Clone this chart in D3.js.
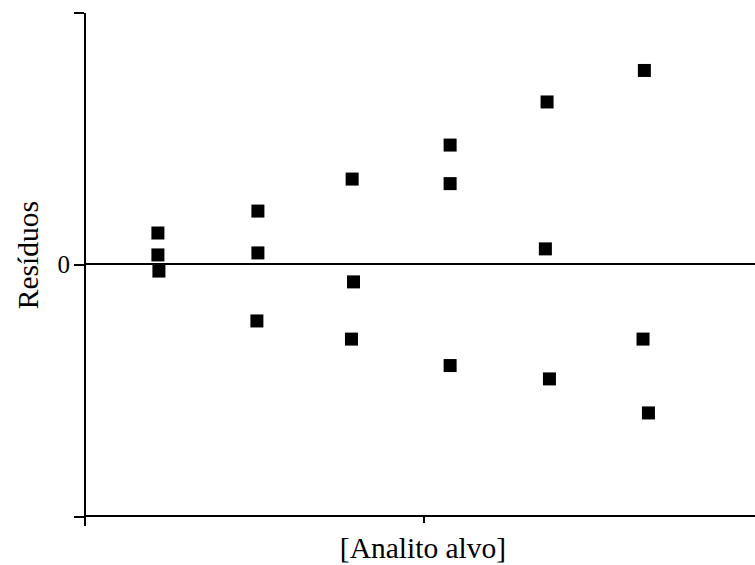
<!DOCTYPE html>
<html>
<head>
<meta charset="utf-8">
<title>Resíduos</title>
<script src="https://d3js.org/d3.v7.min.js"></script>
<style>
  body { margin: 0; background: #fff; }
  .axis path, .axis line { stroke: #000; stroke-width: 2px; shape-rendering: crispEdges; }
  .axis text { font-family: "Liberation Serif", serif; font-size: 25px; fill: #000; }
  .label { font-family: "Liberation Serif", serif; font-size: 29.5px; fill: #000; }
</style>
</head>
<body>
<div id="chart"></div>
<script>
// residuals, three replicates per level
var xVals = [0.218, 0.218, 0.221,
             0.513, 0.513, 0.510,
             0.791, 0.795, 0.789,
             1.080, 1.080, 1.080,
             1.366, 1.361, 1.373,
             1.653, 1.649, 1.665];
var yVals = [0.123, 0.036, -0.028,
             0.210, 0.044, -0.226,
             0.337, -0.071, -0.298,
             0.472, 0.319, -0.403,
             0.643, 0.060, -0.456,
             0.768, -0.298, -0.591];
var yTicks = [-1, 0, 1];
var xTicks = [0, 1];

var width = 755, height = 565;
var svg = d3.select("#chart").append("svg")
  .attr("width", width)
  .attr("height", height);

var x = d3.scaleLinear().domain([0, 2]).range([84, 762]);
var y = d3.scaleLinear().domain([-1, 1]).range([516, 12]);

// zero line
svg.append("line")
  .attr("x1", x(0)).attr("x2", width)
  .attr("y1", y(0)).attr("y2", y(0))
  .style("stroke", "#000").style("stroke-width", 2)
  .style("shape-rendering", "crispEdges");

// x axis
var xAxis = svg.append("g")
  .attr("class", "axis")
  .attr("transform", "translate(0," + y(-1) + ")")
  .call(d3.axisBottom(x).tickValues(xTicks).tickSizeInner(7).tickSizeOuter(0).tickFormat(""));
xAxis.select(".domain").attr("d", "M" + x(0) + ",0H" + width);
xAxis.selectAll(".tick line").filter(function(d) { return d === 0; }).attr("y2", 10);

// y axis
svg.append("g")
  .attr("class", "axis")
  .attr("transform", "translate(" + x(0) + ",0)")
  .call(d3.axisLeft(y).tickValues(yTicks).tickSizeInner(10).tickSizeOuter(0)
    .tickPadding(4)
    .tickFormat(function(d) { return d === 0 ? "0" : ""; }));

// points
var pts = d3.range(xVals.length).map(function(i) { return [xVals[i], yVals[i]]; });
var s = 13;
svg.append("g").selectAll("rect")
  .data(pts)
  .enter().append("rect")
  .attr("x", function(d) { return x(d[0]) - s / 2; })
  .attr("y", function(d) { return y(d[1]) - s / 2; })
  .attr("width", s)
  .attr("height", s)
  .attr("fill", "#000");

// labels
svg.append("text")
  .attr("class", "label")
  .attr("text-anchor", "middle")
  .attr("transform", "translate(38," + y(0.035) + ") rotate(-90)")
  .text("Resíduos");

svg.append("text")
  .attr("class", "label")
  .attr("text-anchor", "middle")
  .attr("x", x(1))
  .attr("y", 558)
  .text("[Analito alvo]");
</script>
</body>
</html>
